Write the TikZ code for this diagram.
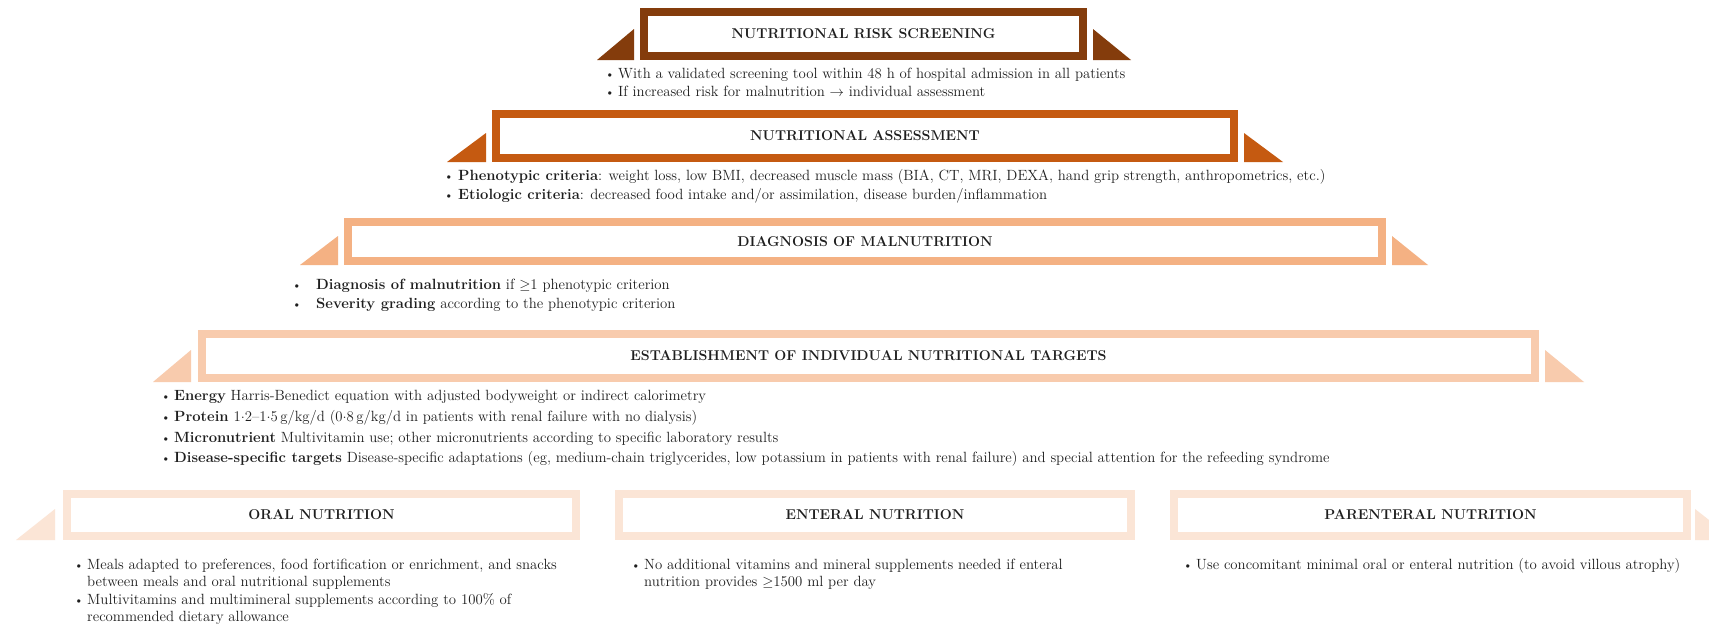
\documentclass[tikz,border=0pt]{standalone}
\definecolor{cA}{HTML}{843C0C}
\definecolor{cB}{HTML}{C55A11}
\definecolor{cC}{HTML}{F4B183}
\definecolor{cD}{HTML}{F8CBAD}
\definecolor{cE}{HTML}{FBE5D6}
\definecolor{ink}{HTML}{1E1E1E}
\newcommand\mdotx{\raisebox{0.33ex}{.}}
\begin{document}
\begin{tikzpicture}[x=1pt,y=-1pt,
  lvbox/.style={draw=#1, line width=8pt, fill=white, inner sep=0pt,
    font=\fontsize{14.2}{16}\selectfont\bfseries, text=ink},
  tri/.style={fill=#1, draw=none},
  bl/.style={anchor=base west, inner sep=0pt, font=\fontsize{14.8}{16}\selectfont, text=ink},
  dt/.style={anchor=base west, inner sep=0pt, font=\fontsize{12.5}{14}\selectfont, text=ink}]
\useasboundingbox (0,0) rectangle (1709,627);
\fill[white] (0,0) rectangle (1709,627);

% Level 1
\node[lvbox=cA, minimum width=439pt, minimum height=44pt] (b1) at (863.5,34) {NUTRITIONAL RISK SCREENING};
\fill[tri=cA] (597,60) -- (634,60) -- (634,29) -- cycle;
\fill[tri=cA] (1093,29) -- (1093,60) -- (1131,60) -- cycle;
\node[dt] (d11) at (605,78) {\textbullet};
\node[bl] (t11) at (618,78) {With a validated screening tool within 48 h of hospital admission in all patients};
\node[dt] (d12) at (605,96) {\textbullet};
\node[bl] (t12) at (618,96) {If increased risk for malnutrition $\rightarrow$ individual assessment};

% Level 2
\node[lvbox=cB, minimum width=738pt, minimum height=44pt] (b2) at (865,136) {NUTRITIONAL ASSESSMENT};
\fill[tri=cB] (447,162) -- (486,162) -- (486,133) -- cycle;
\fill[tri=cB] (1244,133) -- (1244,162) -- (1283,162) -- cycle;
\node[dt] (d21) at (444,180) {\textbullet};
\node[bl] (t21) at (458,180) {\textbf{Phenotypic criteria}: weight loss, low BMI, decreased muscle mass (BIA, CT, MRI, DEXA, hand grip strength, anthropometrics, etc.)};
\node[dt] (d22) at (444,199) {\textbullet};
\node[bl] (t22) at (458,199) {\textbf{Etiologic criteria}: decreased food intake and/or assimilation, disease burden/inflammation};

% Level 3
\node[lvbox=cC, minimum width=1034pt, minimum height=39pt] (b3) at (865,241.5) {DIAGNOSIS OF MALNUTRITION};
\fill[tri=cC] (300,265) -- (338,265) -- (338,236) -- cycle;
\fill[tri=cC] (1392,236) -- (1392,265) -- (1428,265) -- cycle;
\node[dt] (d31) at (292,289) {\textbullet};
\node[bl] (t31) at (316,289) {\textbf{Diagnosis of malnutrition} if $\geq$1 phenotypic criterion};
\node[dt] (d32) at (292,308) {\textbullet};
\node[bl] (t32) at (316,308) {\textbf{Severity grading} according to the phenotypic criterion};

% Level 4
\node[lvbox=cD, minimum width=1333pt, minimum height=44pt] (b4) at (868.5,356) {ESTABLISHMENT OF INDIVIDUAL NUTRITIONAL TARGETS};
\fill[tri=cD] (153,382) -- (191,382) -- (191,350) -- cycle;
\fill[tri=cD] (1545,350) -- (1545,382) -- (1584,382) -- cycle;
\node[dt] (d41) at (161,400) {\textbullet};
\node[bl] (t41) at (174,400) {\textbf{Energy} Harris-Benedict equation with adjusted bodyweight or indirect calorimetry};
\node[dt] (d42) at (161,421) {\textbullet};
\node[bl] (t42) at (174,421) {\textbf{Protein} 1\mdotx2–1\mdotx5\,g/kg/d (0\mdotx8\,g/kg/d in patients with renal failure with no dialysis)};
\node[dt] (d43) at (161,442) {\textbullet};
\node[bl] (t43) at (174,442) {\textbf{Micronutrient} Multivitamin use; other micronutrients according to specific laboratory results};
\node[dt] (d44) at (161,462) {\textbullet};
\node[bl] (t44) at (174,462) {\textbf{Disease-specific targets} Disease-specific adaptations (eg, medium-chain triglycerides, low potassium in patients with renal failure) and special attention for the refeeding syndrome};

% Level 5
\node[lvbox=cE, minimum width=509pt, minimum height=42pt] (b5a) at (321.5,515) {ORAL NUTRITION};
\node[lvbox=cE, minimum width=512pt, minimum height=42pt] (b5b) at (875,515) {ENTERAL NUTRITION};
\node[lvbox=cE, minimum width=513pt, minimum height=42pt] (b5c) at (1430.5,515) {PARENTERAL NUTRITION};
\fill[tri=cE] (16,540) -- (55,540) -- (55,509) -- cycle;
\fill[tri=cE] (1695,509) -- (1709,520) -- (1709,540) -- (1695,540) -- cycle;

\node[dt] (d51) at (74,569) {\textbullet};
\node[bl] (t51) at (87,569) {Meals adapted to preferences, food fortification or enrichment, and snacks};
\node[bl] (t52) at (87,586) {between meals and oral nutritional supplements};
\node[dt] (d53) at (74,604) {\textbullet};
\node[bl] (t53) at (87,604) {Multivitamins and multimineral supplements according to 100\% of};
\node[bl] (t54) at (87,621) {recommended dietary allowance};

\node[dt] (d61) at (631,569) {\textbullet};
\node[bl] (t61) at (644,569) {No additional vitamins and mineral supplements needed if enteral};
\node[bl] (t62) at (644,586) {nutrition provides $\geq$1500 ml per day};

\node[dt] (d71) at (1183,569) {\textbullet};
\node[bl] (t71) at (1196,569) {Use concomitant minimal oral or enteral nutrition (to avoid villous atrophy)};
\end{tikzpicture}
\end{document}
